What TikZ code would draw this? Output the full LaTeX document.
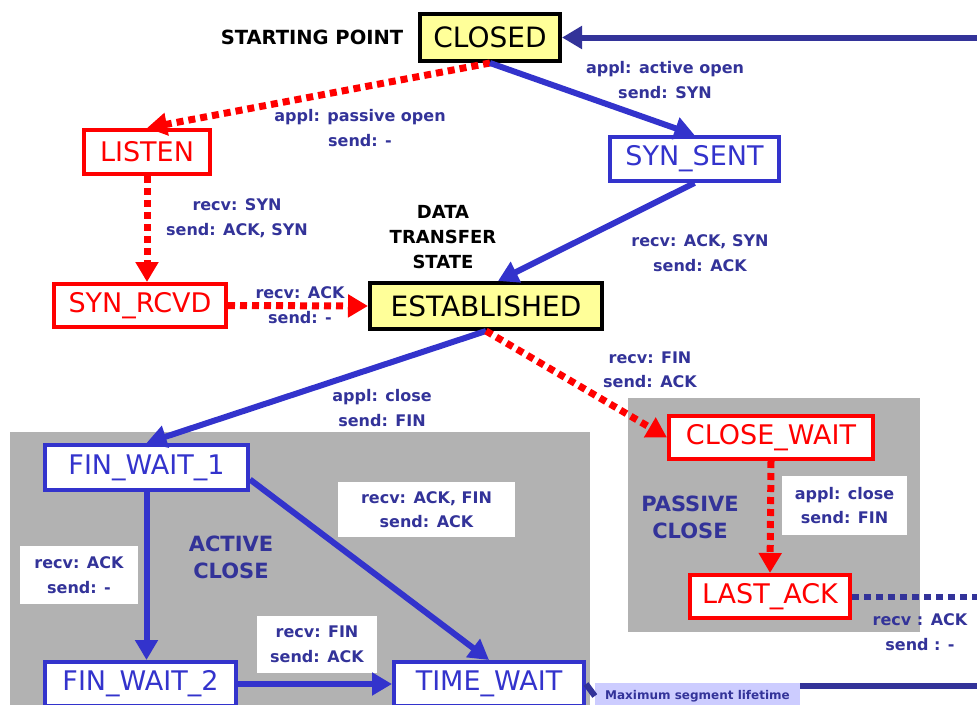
\documentclass[tikz,border=0pt]{standalone}
\usepackage{fontspec}
\setmainfont{DejaVu Sans}
\usepackage{tikz}
\usepackage{xcolor}
\usetikzlibrary{positioning, arrows.meta, calc}
\definecolor{stateBlue}{RGB}{51,51,204}
\definecolor{labelBlue}{RGB}{51,51,153}
\definecolor{stateRed}{RGB}{255,0,0}
\definecolor{noteYellow}{RGB}{255,255,153}
\definecolor{closeGray}{RGB}{178,178,178}
\definecolor{mslLilac}{RGB}{204,204,255}

\begin{document}
\begin{tikzpicture}[x=1pt, y=-1pt,
    state/.style={draw, line width=4pt, fill=white, inner sep=0pt, font=\fontsize{27}{30}\selectfont},
    redstate/.style={state, draw=stateRed, text=stateRed},
    bluestate/.style={state, draw=stateBlue, text=stateBlue},
    mainstate/.style={state, draw=black, fill=noteYellow, text=black, font=\fontsize{28}{30}\selectfont},
    lbl/.style={text=labelBlue, align=center, inner sep=0pt, font=\bfseries\fontsize{16}{24.5}\selectfont},
    lblbox/.style={lbl, fill=white},
    note/.style={align=center, inner sep=0pt, font=\bfseries\fontsize{18}{25}\selectfont},
    solidarr/.style={stateBlue, line width=6pt, -{Triangle[length=20pt,width=22pt]}},
    dotarr/.style={stateRed, line width=7pt, dash pattern=on 7pt off 5pt, -{Triangle[length=20pt,width=22pt]}}]
    \clip (0,0) rectangle (977,704);
    \useasboundingbox (0,0) rectangle (977,704);
    % shaded regions
    \fill[closeGray] (10,432) rectangle (590,710);
    \fill[closeGray] (628,398) rectangle (920,632);

    \node[mainstate, minimum width=140, minimum height=47] (closed) at (490,37.5) {CLOSED};
    \node[note, font=\bfseries\fontsize{19.5}{25}\selectfont] (start) at (312,37) {STARTING POINT};
    \node[redstate, minimum width=126, minimum height=44] (listen) at (147,152) {LISTEN};
    \node[bluestate, minimum width=169, minimum height=44] (synsent) at (694.5,159) {SYN\_SENT};
    \node[redstate, minimum width=172, minimum height=43] (synrcvd) at (140,305.5) {SYN\_RCVD};
    \node[mainstate, minimum width=232, minimum height=46] (established) at (486,306) {ESTABLISHED};
    \node[note] (data) at (443,237) {DATA\\TRANSFER\\STATE};
    \node[redstate, minimum width=204, minimum height=43] (closewait) at (771,437.5) {CLOSE\_WAIT};
    \node[redstate, minimum width=160, minimum height=43] (lastack) at (770,596.5) {LAST\_ACK};
    \node[bluestate, minimum width=203, minimum height=45] (finwait1) at (146.5,467.5) {FIN\_WAIT\_1};
    \node[bluestate, minimum width=191, minimum height=44] (finwait2) at (140.5,684) {FIN\_WAIT\_2};
    \node[bluestate, minimum width=190, minimum height=44] (timewait) at (489,684) {TIME\_WAIT};
    \node[note, text=labelBlue, font=\bfseries\fontsize{21}{27}\selectfont] (active) at (231,557) {ACTIVE\\CLOSE};
    \node[note, text=labelBlue, font=\bfseries\fontsize{21}{27}\selectfont] (passive) at (690,517) {PASSIVE\\CLOSE};
    \node[lbl, fill=mslLilac, font=\bfseries\fontsize{12}{14}\selectfont, minimum width=205, minimum height=26] (msl) at (697.5,696) {Maximum segment lifetime};

    % transition labels
    \node[lbl] (lActive) at (665,80) {appl: active open\\send: SYN};
    \node[lbl] (lPassive) at (360,128) {appl: passive open\\send: -};
    \node[lbl] (lSyn) at (237,218) {recv: SYN\\send: ACK, SYN};
    \node[lbl] (lSynAck) at (700,253) {recv: ACK, SYN\\send: ACK};
    \node[lbl] (lFinRecv) at (650,370) {recv: FIN\\send: ACK};
    \node[lbl] (lClose) at (382,408) {appl: close\\send: FIN};
    \node[lblbox, minimum width=125, minimum height=59] (lPassClose) at (844.5,505.5) {appl: close\\send: FIN};
    \node[lblbox, minimum width=118, minimum height=58] (lAck) at (79,575) {recv: ACK\\send: -};
    \node[lblbox, minimum width=177, minimum height=55] (lAckFin) at (426.5,509.5) {recv: ACK, FIN\\send: ACK};
    \node[lblbox, minimum width=120, minimum height=57] (lFin) at (317,644.5) {recv: FIN\\send: ACK};
    \node[lbl] (lLastAck) at (920,632) {recv : ACK\\send : -};

    \coordinate (backIn) at (977,37.5);
    \coordinate (lastOut) at (977,596.5);
    \coordinate (mslOut) at (977,686);

    \draw[solidarr, labelBlue] (backIn) -- (closed.east);
    \draw[dotarr] (closed.south) -- (listen.north);
    \draw[solidarr] (closed.south) -- (synsent.north);
    \draw[dotarr] (listen.south) -- (listen.south |- synrcvd.north);
    \draw[solidarr] (synsent.south) -- ([xshift=12pt]established.north);
    \draw[dotarr] (synrcvd.east) -- (established.west);
    \node[lbl] (lSynRcvd) at (300,305) {recv: ACK\\send: -};
    \draw[solidarr] (established.south) -- (finwait1.north);
    \draw[dotarr] (established.south) -- (closewait.west);
    \draw[dotarr] (closewait.south) -- (lastack.north);
    \draw[labelBlue, line width=6pt, dash pattern=on 7pt off 5pt] (lastack.east) -- (lastOut);
    \draw[solidarr] (finwait1.south) -- (finwait1.south |- finwait2.north);
    \draw[solidarr] ([yshift=-12pt]finwait1.east) -- (timewait.north);
    \draw[solidarr] (finwait2.east) -- (timewait.west);
    \draw[labelBlue, line width=6pt] (timewait.east) -- (msl.west);
    \draw[labelBlue, line width=6pt] (msl.east |- mslOut) -- (mslOut);
\end{tikzpicture}
\end{document}
